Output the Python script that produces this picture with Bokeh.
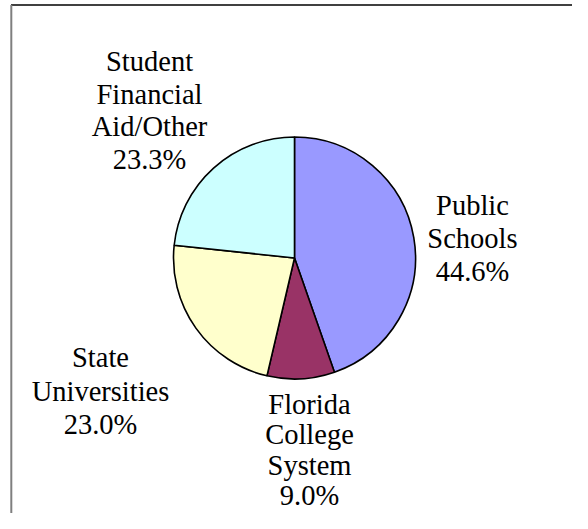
import numpy as np
from bokeh.plotting import figure
from bokeh.models import Range1d
from bokeh.core.properties import value
from bokeh.embed import file_html
from bokeh.resources import INLINE

# ---- data ----
categories = ["Public Schools", "Florida College System",
              "State Universities", "Student Financial Aid/Other"]
label_lines = [["Public", "Schools"],
               ["Florida", "College", "System"],
               ["State", "Universities"],
               ["Student", "Financial", "Aid/Other"]]
shares = [44.6, 9.0, 23.0, 23.3]
colors = ["#9999FF", "#993366", "#FFFFCC", "#CCFFFF"]

# ---- layout (pixels, origin at top-left of the figure) ----
W, H = 572, 513
cx, cy, R = 294, 257.5, 121
label_anchor = [(472, 205), (309, 403.5), (100, 357), (149, 61)]
line_step = [33.0, 30.5, 33.5, 32.7]
FONT = "Liberation Serif"

def sy(y):
    return H - y

p = figure(width=W, height=H,
           x_range=Range1d(0, W), y_range=Range1d(0, H),
           output_backend="svg", toolbar_location=None, min_border=0)
p.axis.visible = False
p.grid.visible = False
p.outline_line_color = None
p.background_fill_color = "white"
p.border_fill_color = "white"

vals = np.array(shares, dtype=float)
frac = vals / vals.sum()
cum = np.concatenate([[0.0], np.cumsum(frac)[:-1]])
starts = np.pi / 2 - 2 * np.pi * cum
ends = starts - 2 * np.pi * frac

p.wedge(x=cx, y=sy(cy), radius=R, start_angle=starts, end_angle=ends,
        direction="clock", fill_color=colors, line_color="black",
        line_width=1.6)

xs, ys, texts = [], [], []
for i, cat in enumerate(categories):
    lines = label_lines[i] + [f"{shares[i]:.1f}%"]
    ax, ay = label_anchor[i]
    for j, t in enumerate(lines):
        xs.append(ax)
        ys.append(sy(ay + j * line_step[i]))
        texts.append(t)

p.text(x=xs, y=ys, text=texts, text_font=value(FONT),
       text_font_size="28.5px", text_align="center",
       text_baseline="alphabetic", text_color="black")

# frame lines (decoration)
p.segment(x0=[10.5], y0=[sy(4.5)], x1=[W], y1=[sy(4.5)],
          line_color="black", line_width=1.6)
p.segment(x0=[10.8], y0=[sy(4.5)], x1=[10.8], y1=[0],
          line_color="#7f7f7f", line_width=2)

open("out.html", "w").write(file_html(p, INLINE))
